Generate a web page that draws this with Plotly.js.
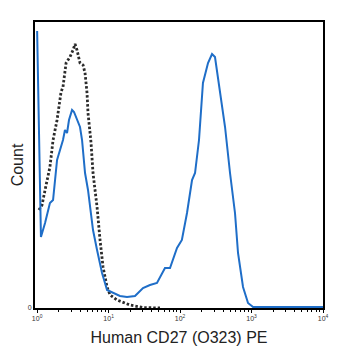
<!DOCTYPE html>
<html>
<head>
<meta charset="utf-8">
<script src="https://cdn.plot.ly/plotly-3.0.1.min.js"></script>
<style>html,body{margin:0;padding:0;background:#fff;}#chart{width:353px;height:360px;}</style>
</head>
<body>
<div id="chart"></div>
<script>
// Stained sample (blue): fluorescence intensity vs count
const stainedX = [1.0,1.13,1.29,1.51,1.67,1.90,2.09,2.30,2.45,2.62,2.79,3.08,3.28,3.61,3.98,4.25,4.68,5.15,6.05,6.89,8.09,9.51,11.5,14.4,18.1,23.4,30.3,37.9,47.5,61.5,72.3,90.6,106,125,147,162,184,209,246,280,308,340,386,426,500,587,647,760,893,1050,10000];
const stainedY = [277,71,85,105,108,148,158,168,178,175,188,198,196,188,181,168,135,118,78,58,35,18,15,12,11,12,20,23,25,40,40,60,68,95,128,135,168,225,245,254,251,231,201,181,135,95,55,21,5,1,1];
// Control (black dotted)
const controlX = [1.06,1.17,1.29,1.51,1.67,1.90,2.16,2.30,2.54,2.88,3.18,3.39,3.61,3.98,4.39,4.68,4.99,5.15,5.50,5.68,6.05,6.89,7.59,8.36,9.51,10.5,13.1,19.9,30.3,52.4];
const controlY = [98,103,118,141,168,188,216,221,245,251,258,264,258,245,243,235,215,195,175,165,135,101,68,41,21,13,8,3,0.5,0];
// Axis ticks
const xTickVals = [1, 10, 100, 1000, 10000];
const xTickText = ['10<sup>0</sup>','10<sup>1</sup>','10<sup>2</sup>','10<sup>3</sup>','10<sup>4</sup>'];
const yTickVals = [0];
const yTickText = ['0'];

const minorVals = [];
for (let d = 0; d < 4; d++) {
  for (let k = 2; k <= 9; k++) minorVals.push(k * Math.pow(10, d));
}

const traces = [
  {x: controlX, y: controlY, type: 'scatter', mode: 'lines',
   line: {color: '#2b2b2b', width: 2.8, dash: '2.5px,2px'}, hoverinfo: 'skip'},
  {x: stainedX, y: stainedY, type: 'scatter', mode: 'lines',
   line: {color: '#1f6ec8', width: 2}, hoverinfo: 'skip'}
];

const layout = {
  width: 353, height: 360,
  margin: {l: 35, r: 30, t: 22, b: 52},
  paper_bgcolor: '#fff', plot_bgcolor: '#fff',
  showlegend: false,
  font: {family: '"Liberation Sans", Arial, sans-serif', color: '#222'},
  xaxis: {
    type: 'log', range: [-0.03, 4.0],
    tickmode: 'array', tickvals: xTickVals, ticktext: xTickText,
    ticks: 'outside', ticklen: 3, tickwidth: 1, tickcolor: '#000',
    tickfont: {size: 7, color: '#333'},
    minor: {tickmode: 'array', tickvals: minorVals, ticks: 'outside', ticklen: 2, tickwidth: 1, tickcolor: '#000', showgrid: false},
    showline: true, linecolor: '#000', linewidth: 2, mirror: true,
    showgrid: false, zeroline: false,
    title: {text: 'Human CD27 (O323) PE', font: {size: 16, color: '#222'}, standoff: 10}
  },
  yaxis: {
    range: [0, 286],
    tickmode: 'array', tickvals: yTickVals, ticktext: yTickText,
    ticks: '', tickfont: {size: 7, color: '#333'},
    showline: true, linecolor: '#000', linewidth: 2, mirror: true,
    showgrid: false, zeroline: false,
    title: {text: 'Count', font: {size: 16, color: '#222'}, standoff: 0}
  }
};

Plotly.newPlot('chart', traces, layout, {staticPlot: true, displayModeBar: false});
</script>
</body>
</html>
